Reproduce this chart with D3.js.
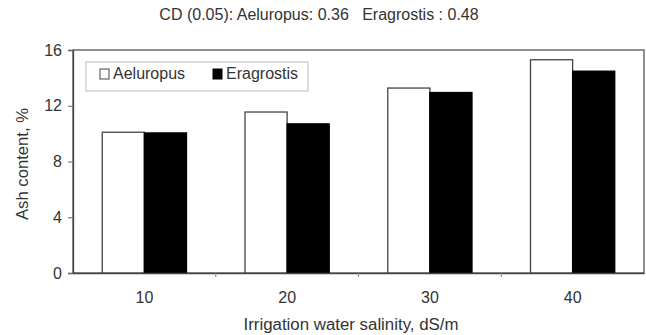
<!DOCTYPE html>
<html><head><meta charset="utf-8">
<script src="https://cdn.jsdelivr.net/npm/d3@7"></script>
<style>body{margin:0;background:#fff}text{font-family:"Liberation Sans",Arial,sans-serif;fill:#333;white-space:pre}</style>
</head><body>
<svg id="c" width="646" height="335"></svg>
<script>
const categories = ["10","20","30","40"];
const seriesNames = ["Aeluropus","Eragrostis"];
const aeluropus = [10.1, 11.55, 13.27, 15.3];
const eragrostis = [10.05, 10.7, 12.95, 14.48];
const yTicks = [0,4,8,12,16];
const titleText = "CD (0.05): Aeluropus: 0.36   Eragrostis : 0.48";
const xTitle = "Irrigation water salinity, dS/m";
const yTitle = "Ash content, %";

const svg = d3.select("#c");
const m = {l:73, r:644, t:50, b:273};
const x = d3.scaleBand().domain(categories).range([m.l, m.r]).paddingInner(0.41).paddingOuter(0.205);
const xs = d3.scaleBand().domain(seriesNames).range([0, x.bandwidth()]);
const y = d3.scaleLinear().domain([0,16]).range([m.b, m.t]);
const fills = {Aeluropus:"#fff", Eragrostis:"#000"};
const strokes = {Aeluropus:"#444", Eragrostis:"#000"};

const data = categories.map((c,i)=>({c, vals:[{s:"Aeluropus",v:aeluropus[i]},{s:"Eragrostis",v:eragrostis[i]}]}));

// frame
svg.append("rect").attr("x",m.l).attr("y",m.t).attr("width",m.r-m.l).attr("height",m.b-m.t)
  .attr("fill","none").attr("stroke","#555").attr("stroke-width",1.3);

// bars
const g = svg.append("g").selectAll("g").data(data).join("g").attr("transform",d=>`translate(${x(d.c)},0)`);
g.selectAll("rect").data(d=>d.vals).join("rect")
  .attr("x",d=>xs(d.s)).attr("width",xs.bandwidth())
  .attr("y",d=>y(d.v)).attr("height",d=>y(0)-y(d.v))
  .attr("fill",d=>fills[d.s]).attr("stroke",d=>strokes[d.s]).attr("stroke-width",1.3);

// y axis
const ya = svg.append("g").attr("transform",`translate(${m.l},0)`)
  .call(d3.axisLeft(y).tickValues(yTicks).tickSize(5).tickPadding(6).tickFormat(d3.format("d")));
ya.select(".domain").attr("stroke","#444").attr("stroke-width",1.3);
ya.selectAll(".tick line").attr("stroke","#666");
ya.selectAll("text").style("font-size","16px").attr("fill","#333");

// x axis: ticks between categories
const step = x.step();
const boundaries = d3.range(1, categories.length).map(i=>m.l + i*step);
const xa = svg.append("g").attr("transform",`translate(0,${m.b})`)
  .call(d3.axisBottom(x).tickSize(0).tickPadding(19));
xa.select(".domain").attr("stroke","#444").attr("stroke-width",1.3);
xa.selectAll("text").style("font-size","16px").attr("fill","#333");
svg.append("g").selectAll("line").data(boundaries).join("line")
  .attr("x1",d=>d).attr("x2",d=>d).attr("y1",m.b).attr("y2",m.b+4).attr("stroke","#888");

// titles
svg.append("text").attr("x",319).attr("y",20).attr("text-anchor","middle").style("font-size","16px").text(titleText);
svg.append("text").attr("x",351).attr("y",330).attr("text-anchor","middle").style("font-size","16px")
  .attr("textLength",215).attr("lengthAdjust","spacingAndGlyphs").text(xTitle);
svg.append("text").attr("transform","translate(28,164) rotate(-90)").attr("text-anchor","middle").style("font-size","16px")
  .attr("textLength",112).attr("lengthAdjust","spacingAndGlyphs").text(yTitle);

// legend
const lg = svg.append("g");
lg.append("rect").attr("x",86).attr("y",62).attr("width",222).attr("height",29).attr("fill","#fff").attr("stroke","#bbb");
const lx = [100, 213];
seriesNames.forEach((s,i)=>{
  lg.append("rect").attr("x",lx[i]).attr("y",69).attr("width",9).attr("height",10)
    .attr("fill",fills[s]).attr("stroke",strokes[s]).attr("stroke-width",1);
  lg.append("text").attr("x",lx[i]+13).attr("y",79).style("font-size","16px").text(s);
});
</script>
</body></html>
